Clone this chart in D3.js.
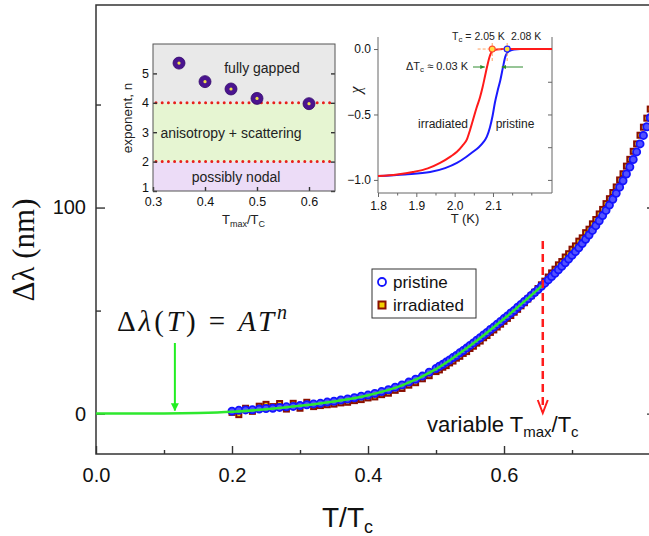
<!DOCTYPE html>
<html>
<head>
<meta charset="utf-8">
<script src="https://cdn.jsdelivr.net/npm/d3@7"></script>
<style>
  body { margin: 0; background: #fff; }
  svg { display: block; font-family: "Liberation Sans", Arial, sans-serif; }
</style>
</head>
<body>
<div id="chart"></div>
<script>
// ---- main panel: penetration depth vs reduced temperature ----
const tGrid = [
  0.20, 0.21, 0.22, 0.23, 0.24, 0.25, 0.26, 0.27, 0.28, 0.29,
  0.30, 0.31, 0.32, 0.33, 0.34, 0.35, 0.36, 0.37, 0.38, 0.39,
  0.40, 0.41, 0.42, 0.43, 0.44, 0.45, 0.46, 0.47, 0.48, 0.49,
  0.500, 0.505, 0.510, 0.515, 0.520, 0.525, 0.530, 0.535, 0.540, 0.545,
  0.550, 0.555, 0.560, 0.565, 0.570, 0.575, 0.580, 0.585, 0.590, 0.595,
  0.600, 0.605, 0.610, 0.615, 0.620, 0.625, 0.630, 0.635, 0.640, 0.645,
  0.650, 0.655, 0.660, 0.665, 0.670, 0.675, 0.680, 0.685, 0.690, 0.695,
  0.700, 0.705, 0.710, 0.715, 0.720, 0.725, 0.730, 0.735, 0.740, 0.745,
  0.750, 0.755, 0.760, 0.765, 0.770, 0.775, 0.780, 0.785, 0.790, 0.795,
  0.800, 0.805, 0.810, 0.815
];
const pristineDL = [
  1.2, 1.6, 1.8, 1.9, 2.2, 2.5, 2.6, 3.0, 3.3, 3.5,
  3.9, 4.3, 4.7, 5.0, 5.6, 6.0, 6.6, 7.1, 7.7, 8.4,
  9.0, 9.8, 10.7, 11.6, 12.8, 13.9, 15.3, 16.7, 18.2, 20.1,
  21.9, 23.0, 23.9, 25.0, 26.0, 27.2, 28.2, 29.5, 30.6, 31.8,
  33.1, 34.3, 35.6, 36.8, 38.2, 39.4, 40.8, 42.0, 43.4, 44.7,
  46.1, 47.4, 48.8, 50.1, 51.6, 53.0, 54.4, 55.8, 57.3, 58.8,
  60.2, 61.8, 63.3, 64.9, 66.5, 68.1, 69.8, 71.5, 73.2, 75.0,
  76.8, 78.6, 80.5, 82.5, 84.6, 86.7, 88.9, 91.2, 93.6, 96.1,
  98.6, 101.2, 104.0, 106.9, 109.9, 113.0, 116.3, 119.7, 123.3, 127.0,
  130.9, 135.0, 139.2, 143.6
];
const irradiatedDL = [
  0.6, -0.5, 2.6, 1.1, 3.6, 4.5, 3.4, 4.9, 2.2, 5.0,
  2.6, 5.5, 3.4, 3.9, 4.3, 4.6, 5.2, 5.5, 6.3, 6.8,
  7.6, 8.1, 9.2, 9.9, 11.3, 12.2, 13.8, 15.0, 16.9, 18.4,
  20.4, 21.2, 22.5, 23.3, 24.6, 25.5, 26.9, 27.8, 29.2, 30.1,
  31.6, 32.7, 34.2, 35.2, 36.8, 37.9, 39.4, 40.6, 42.0, 43.4,
  44.8, 46.2, 47.6, 49.2, 50.6, 52.3, 53.8, 55.6, 57.2, 58.9,
  60.7, 62.5, 64.3, 66.3, 68.3, 70.1, 72.2, 73.8, 76.0, 77.6,
  79.8, 81.4, 83.7, 85.3, 87.8, 89.5, 92.1, 94.2, 96.9, 99.1,
  101.9, 104.3, 107.3, 110.0, 113.4, 116.4, 120.1, 123.4, 127.3, 130.9,
  135.1, 139.0, 143.4, 147.8
];
// power-law fit
const fitT  = [0, 0.05, 0.10, 0.15, 0.20, 0.25, 0.30, 0.35, 0.40, 0.45, 0.50, 0.55, 0.60, 0.657];
const fitDL = [0, 0.0, 0.05, 0.3, 0.9, 2.1, 3.8, 5.9, 8.9, 13.7, 21.6, 32.9, 46.0, 62.4];
const fitArrowT = 0.116;
const tmaxArrowT = 0.657;
const mainXTicks = [0, 0.2, 0.4, 0.6];
const mainXMinor = [0.1, 0.3, 0.5, 0.7];
const mainYTicks = [0, 100];
const mainYMinor = [50, 150];
const legendLabels = ["pristine", "irradiated"];

// ---- inset 1: fitted exponent vs Tmax/Tc ----
const tmaxRatio = [0.35, 0.40, 0.45, 0.50, 0.60];
const exponentN = [5.35, 4.72, 4.47, 4.15, 3.97];
const regimeBounds = [1, 2, 4, 6];
const regimeLabels = ["possibly nodal", "anisotropy + scattering", "fully gapped"];
const inset1XTicks = [0.3, 0.4, 0.5, 0.6];
const inset1YTicks = [1, 2, 3, 4, 5];

// ---- inset 2: susceptibility ----
const chiIrrT = [1.80, 1.85, 1.891, 1.93, 1.962, 1.99, 2.006, 2.020, 2.032, 2.040, 2.048, 2.057, 2.066, 2.073, 2.079, 2.085, 2.090, 2.095, 2.100, 2.110, 2.126, 2.254];
const chiIrr  = [-0.970, -0.958, -0.940, -0.912, -0.870, -0.82, -0.785, -0.74, -0.69, -0.62, -0.54, -0.45, -0.37, -0.29, -0.21, -0.13, -0.07, -0.03, -0.012, -0.003, 0.0, 0.0];
const chiPriT = [1.80, 1.87, 1.936, 1.975, 2.006, 2.030, 2.048, 2.063, 2.074, 2.084, 2.092, 2.099, 2.105, 2.112, 2.119, 2.126, 2.132, 2.138, 2.145, 2.155, 2.171, 2.254];
const chiPri  = [-0.970, -0.958, -0.940, -0.910, -0.870, -0.825, -0.785, -0.75, -0.715, -0.67, -0.60, -0.51, -0.41, -0.32, -0.24, -0.14, -0.06, -0.025, -0.012, -0.004, 0.0, 0.0];
const tcMarks = [2.098, 2.137];   // where the Tc dots sit on the axis
const tcLabels = ["2.05 K", "2.08 K"];
const inset2XTicks = [1.8, 1.9, 2.0, 2.1];
const inset2XMinor = [1.85, 1.95, 2.05, 2.15, 2.2];
const inset2YTicks = [0, -0.5, -1.0];
const inset2YMinor = [-0.25, -0.75];

const W = 649, H = 536;
const svg = d3.select("#chart").append("svg").attr("width", W).attr("height", H);

// arrow markers
const defs = svg.append("defs");
defs.append("marker").attr("id", "greenHead")
  .attr("viewBox", "0 0 10 10").attr("refX", 9).attr("refY", 5)
  .attr("markerWidth", 4).attr("markerHeight", 6).attr("markerUnits", "strokeWidth")
  .attr("orient", "auto")
  .append("path").attr("d", "M0,0 L10,5 L0,10 Z").attr("fill", "#22ee22");
defs.append("marker").attr("id", "smallGreen")
  .attr("viewBox", "0 0 10 10").attr("refX", 9).attr("refY", 5)
  .attr("markerWidth", 5).attr("markerHeight", 5).attr("markerUnits", "strokeWidth")
  .attr("orient", "auto")
  .append("path").attr("d", "M0,1 L10,5 L0,9 Z").attr("fill", "#2e8b2e");
defs.append("clipPath").attr("id", "mainClip")
  .append("rect").attr("x", 96).attr("y", 5).attr("width", 560).attr("height", 449);

// ================= main panel =================
const x = d3.scaleLinear().domain([0, 0.8235]).range([96, 656]);
const y = d3.scaleLinear().domain([-19.6, 198.3]).range([454, 5]);

function styleAxis(g, size) {
  g.select(".domain").remove();
  g.selectAll(".tick line").attr("stroke", "#333").attr("stroke-width", 1.4);
  g.selectAll(".tick text").attr("fill", "#111").attr("font-size", size)
    .attr("font-family", "Liberation Sans, Arial, sans-serif");
}

svg.append("g").attr("transform", "translate(0,454)")
  .call(d3.axisBottom(x).tickValues(mainXTicks).tickSize(-8).tickPadding(14).tickFormat(d3.format(".1f")))
  .call(g => styleAxis(g, 20));
svg.append("g").attr("transform", "translate(0,454)")
  .call(d3.axisBottom(x).tickValues(mainXMinor).tickSize(-4).tickFormat(""))
  .call(g => styleAxis(g, 20));
svg.append("g").attr("transform", "translate(96,0)")
  .call(d3.axisLeft(y).tickValues(mainYTicks).tickSize(-9).tickPadding(10))
  .call(g => styleAxis(g, 20));
svg.append("g").attr("transform", "translate(96,0)")
  .call(d3.axisLeft(y).tickValues(mainYMinor).tickSize(-5).tickFormat(""))
  .call(g => styleAxis(g, 20));
svg.append("g").attr("transform", "translate(656,0)")
  .call(d3.axisRight(y).tickValues(mainYTicks).tickSize(-9).tickFormat(""))
  .call(g => styleAxis(g, 20));
svg.append("g").attr("transform", "translate(656,0)")
  .call(d3.axisRight(y).tickValues(mainYMinor).tickSize(-5).tickFormat(""))
  .call(g => styleAxis(g, 20));

svg.append("rect").attr("x", 96).attr("y", 5).attr("width", 560).attr("height", 449)
  .attr("fill", "none").attr("stroke", "#333").attr("stroke-width", 1.5);

// axis titles
svg.append("text").attr("transform", "translate(34,250) rotate(-90)")
  .attr("text-anchor", "middle").attr("font-family", "Liberation Serif, Times New Roman, serif")
  .attr("font-size", 31).attr("fill", "#111").text("Δλ (nm)");
const xt = svg.append("text").attr("x", 322).attr("y", 527)
  .attr("font-size", 28).attr("fill", "#111");
xt.append("tspan").text("T/T");
xt.append("tspan").attr("font-size", 18).attr("dy", 6).text("c");

// data
const plot = svg.append("g").attr("clip-path", "url(#mainClip)");
plot.append("g").selectAll("rect")
  .data(tGrid.map((t, i) => [t, irradiatedDL[i]]))
  .join("rect")
  .attr("x", d => x(d[0]) - 2.5).attr("y", d => y(d[1]) - 2.5)
  .attr("width", 5).attr("height", 5)
  .attr("fill", "#f2d000").attr("stroke", "#8a1000").attr("stroke-width", 2);
plot.append("g").selectAll("circle")
  .data(tGrid.map((t, i) => [t, pristineDL[i]]))
  .join("circle")
  .attr("cx", d => x(d[0])).attr("cy", d => y(d[1])).attr("r", 3.6)
  .attr("fill", "#5252ff").attr("stroke", "#1414ff").attr("stroke-width", 1.8);
plot.append("path")
  .datum(fitT.map((t, i) => [t, fitDL[i]]))
  .attr("d", d3.line().x(d => x(d[0])).y(d => y(d[1])).curve(d3.curveMonotoneX))
  .attr("fill", "none").attr("stroke", "#2ee82e").attr("stroke-width", 2.5);

// formula + arrow
const fx = svg.append("text").attr("x", 117).attr("y", 331)
  .attr("font-family", "Liberation Serif, Times New Roman, serif").attr("font-size", 29).attr("fill", "#111")
  .attr("textLength", 170).attr("lengthAdjust", "spacing");
fx.append("tspan").text("Δ");
fx.append("tspan").attr("font-style", "italic").text("λ");
fx.append("tspan").text("(");
fx.append("tspan").attr("font-style", "italic").text("T");
fx.append("tspan").text(") = ");
fx.append("tspan").attr("font-style", "italic").text("AT");
fx.append("tspan").attr("font-style", "italic").attr("font-size", 20).attr("dy", -12).text("n");

svg.append("line").attr("x1", x(fitArrowT)).attr("x2", x(fitArrowT))
  .attr("y1", 343).attr("y2", y(1.5))
  .attr("stroke", "#22ee22").attr("stroke-width", 2).attr("marker-end", "url(#greenHead)");

// variable Tmax arrow
const ax = x(tmaxArrowT);
svg.append("line").attr("x1", ax).attr("x2", ax).attr("y1", 241).attr("y2", 412)
  .attr("stroke", "#ff1c1c").attr("stroke-width", 2.5).attr("stroke-dasharray", "8,5");
svg.append("path").attr("d", `M${ax - 5},${400} L${ax},${413} L${ax + 5},${400}`)
  .attr("fill", "none").attr("stroke", "#ff1c1c").attr("stroke-width", 2);
const vt = svg.append("text").attr("x", 427).attr("y", 432).attr("font-size", 22).attr("fill", "#111");
vt.append("tspan").text("variable T");
vt.append("tspan").attr("font-size", 15).attr("dy", 5).text("max");
vt.append("tspan").attr("dy", -5).text("/T");
vt.append("tspan").attr("font-size", 15).attr("dy", 5).text("c");

// legend
const lg = svg.append("g");
lg.append("rect").attr("x", 372).attr("y", 269).attr("width", 104).attr("height", 49)
  .attr("fill", "#fff").attr("stroke", "#333").attr("stroke-width", 1);
lg.append("circle").attr("cx", 382).attr("cy", 282).attr("r", 4)
  .attr("fill", "#fff").attr("stroke", "#1414ff").attr("stroke-width", 1.8);
lg.append("rect").attr("x", 378.5).attr("y", 301.5).attr("width", 7).attr("height", 7)
  .attr("fill", "#f2d000").attr("stroke", "#8a1000").attr("stroke-width", 2);
legendLabels.forEach((s, i) => {
  lg.append("text").attr("x", 393).attr("y", 288 + i * 23)
    .attr("font-size", 17).attr("fill", "#111").text(s);
});

// ================= inset 1 =================
const ix = d3.scaleLinear().domain([0.3, 0.65]).range([153, 335]);
const iy = d3.scaleLinear().domain([1, 6]).range([191, 44]);
const regimeFill = ["#ecdcf7", "#e6f5d2", "#e9e9e9"];
const in1 = svg.append("g");
in1.selectAll("rect.band").data(regimeLabels).join("rect")
  .attr("x", ix(0.3)).attr("width", ix(0.65) - ix(0.3))
  .attr("y", (d, i) => iy(regimeBounds[i + 1])).attr("height", (d, i) => iy(regimeBounds[i]) - iy(regimeBounds[i + 1]))
  .attr("fill", (d, i) => regimeFill[i]);
in1.selectAll("line.dots").data([2, 4]).join("line")
  .attr("x1", ix(0.3) + 3).attr("x2", ix(0.65)).attr("y1", d => iy(d)).attr("y2", d => iy(d))
  .attr("stroke", "#e8201c").attr("stroke-width", 3).attr("stroke-linecap", "round")
  .attr("stroke-dasharray", "0,6.2");
const labelPos = [[236, 182], [231, 138], [262, 73]];
in1.selectAll("text.reg").data(regimeLabels).join("text")
  .attr("x", (d, i) => labelPos[i][0]).attr("y", (d, i) => labelPos[i][1])
  .attr("text-anchor", "middle").attr("font-size", 14).attr("fill", "#222").text(d => d);
in1.selectAll("circle.pt").data(tmaxRatio).join("circle")
  .attr("cx", d => ix(d)).attr("cy", (d, i) => iy(exponentN[i])).attr("r", 6)
  .attr("fill", "#4a148f").attr("stroke", "#32086a").attr("stroke-width", 0.8);
in1.selectAll("circle.core").data(tmaxRatio).join("circle")
  .attr("cx", d => ix(d)).attr("cy", (d, i) => iy(exponentN[i])).attr("r", 1.6)
  .attr("fill", "#efe04a");
in1.append("g").attr("transform", "translate(0,191)")
  .call(d3.axisBottom(ix).tickValues(inset1XTicks).tickSize(-4).tickPadding(6).tickFormat(d3.format(".1f")))
  .call(g => styleAxis(g, 12.5));
in1.append("g").attr("transform", "translate(153,0)")
  .call(d3.axisLeft(iy).tickValues(inset1YTicks).tickSize(-4).tickPadding(4).tickFormat(d3.format("d")))
  .call(g => styleAxis(g, 12.5))
  .call(g => g.selectAll(".tick text").filter(d => d === 1).attr("dy", "0.05em"));
in1.append("g").attr("transform", "translate(335,0)")
  .call(d3.axisRight(iy).tickValues(inset1YTicks).tickSize(-4).tickFormat(""))
  .call(g => styleAxis(g, 12.5));
in1.append("rect").attr("x", 153).attr("y", 44).attr("width", 182).attr("height", 147)
  .attr("fill", "none").attr("stroke", "#555").attr("stroke-width", 1);
in1.append("text").attr("transform", "translate(132,118) rotate(-90)")
  .attr("text-anchor", "middle").attr("font-size", 13.5).attr("fill", "#222").text("exponent, n");
const i1t = in1.append("text").attr("x", 222).attr("y", 224).attr("font-size", 13).attr("fill", "#222");
i1t.append("tspan").text("T");
i1t.append("tspan").attr("font-size", 9).attr("dy", 3).text("max");
i1t.append("tspan").attr("dy", -3).text("/T");
i1t.append("tspan").attr("font-size", 9).attr("dy", 3).text("C");

// ================= inset 2 =================
const cx = d3.scaleLinear().domain([1.8, 2.254]).range([378, 552]);
const cy = d3.scaleLinear().domain([-1.1, 0.092]).range([193, 37]);
const in2 = svg.append("g");
in2.append("g").attr("transform", "translate(0,193)")
  .call(d3.axisBottom(cx).tickValues(inset2XTicks).tickSize(4).tickPadding(4).tickFormat(d3.format(".1f")))
  .call(g => styleAxis(g, 12));
in2.append("g").attr("transform", "translate(0,193)")
  .call(d3.axisBottom(cx).tickValues(inset2XMinor).tickSize(2.5).tickFormat(""))
  .call(g => styleAxis(g, 12));
in2.append("g").attr("transform", "translate(378,0)")
  .call(d3.axisLeft(cy).tickValues(inset2YTicks).tickSize(4).tickPadding(3)
    .tickFormat(d => d3.format(".1f")(d).replace("-", "−")))
  .call(g => styleAxis(g, 12));
in2.append("g").attr("transform", "translate(552,0)")
  .call(d3.axisRight(cy).tickValues(inset2YTicks.concat(inset2YMinor)).tickSize(-4).tickFormat(""))
  .call(g => styleAxis(g, 12));
in2.append("path").attr("d", "M378,37 V193 H552 V37")
  .attr("fill", "none").attr("stroke", "#666").attr("stroke-width", 1);
in2.selectAll("g .tick line").attr("stroke", "#666").attr("stroke-width", 1);

const chiLine = d3.line().x(d => cx(d[0])).y(d => cy(d[1])).curve(d3.curveMonotoneX);
in2.append("path").datum(chiPriT.map((t, i) => [t, chiPri[i]]))
  .attr("d", chiLine).attr("fill", "none").attr("stroke", "#1a1aff").attr("stroke-width", 2);
in2.append("path").datum(chiIrrT.map((t, i) => [t, chiIrr[i]]))
  .attr("d", chiLine).attr("fill", "none").attr("stroke", "#ff1a1a").attr("stroke-width", 2);

// Tc guides
in2.append("line").attr("x1", cx(2.06)).attr("x2", cx(tcMarks[1])).attr("y1", cy(0)).attr("y2", cy(0))
  .attr("stroke", "#ffa060").attr("stroke-width", 1).attr("stroke-dasharray", "3,2");
tcMarks.forEach(t => {
  in2.append("line").attr("x1", cx(t)).attr("x2", cx(t)).attr("y1", 43).attr("y2", 61)
    .attr("stroke", "#ffa060").attr("stroke-width", 1).attr("stroke-dasharray", "3,2");
});
in2.append("circle").attr("cx", cx(tcMarks[0])).attr("cy", cy(0)).attr("r", 3)
  .attr("fill", "#ffe040").attr("stroke", "#ff5030").attr("stroke-width", 1.2);
in2.append("circle").attr("cx", cx(tcMarks[1])).attr("cy", cy(0)).attr("r", 3)
  .attr("fill", "#ffe040").attr("stroke", "#2020ff").attr("stroke-width", 1.2);

const tcText = in2.append("text").attr("x", 452).attr("y", 40).attr("font-size", 10.5).attr("fill", "#222");
tcText.append("tspan").text("T");
tcText.append("tspan").attr("font-size", 8).attr("dy", 2).text("c");
tcText.append("tspan").attr("dy", -2).text(" = " + tcLabels[0]);
in2.append("text").attr("x", 511).attr("y", 40).attr("font-size", 10.5).attr("fill", "#222").text(tcLabels[1]);

const dt = in2.append("text").attr("x", 406).attr("y", 70).attr("font-size", 11).attr("fill", "#222");
dt.append("tspan").text("ΔT");
dt.append("tspan").attr("font-size", 8).attr("dy", 2).text("c");
dt.append("tspan").attr("dy", -2).text(" ≈ 0.03 K");
in2.append("line").attr("x1", 473).attr("x2", cx(2.0785)).attr("y1", 67).attr("y2", 67)
  .attr("stroke", "#2e8b2e").attr("stroke-width", 1).attr("marker-end", "url(#smallGreen)");
in2.append("line").attr("x1", 523).attr("x2", cx(2.123)).attr("y1", 67).attr("y2", 67)
  .attr("stroke", "#2e8b2e").attr("stroke-width", 1).attr("marker-end", "url(#smallGreen)");

in2.append("text").attr("x", 443).attr("y", 128).attr("text-anchor", "middle")
  .attr("font-size", 12).attr("fill", "#222").text("irradiated");
in2.append("text").attr("x", 515).attr("y", 128).attr("text-anchor", "middle")
  .attr("font-size", 12).attr("fill", "#222").text("pristine");
in2.append("text").attr("transform", "translate(361,90) rotate(-90)").attr("text-anchor", "middle")
  .attr("font-family", "Liberation Serif, serif").attr("font-style", "italic")
  .attr("font-size", 16).attr("fill", "#222").text("χ");
in2.append("text").attr("x", 465).attr("y", 223).attr("text-anchor", "middle")
  .attr("font-size", 13).attr("fill", "#222").text("T (K)");
</script>
</body>
</html>
